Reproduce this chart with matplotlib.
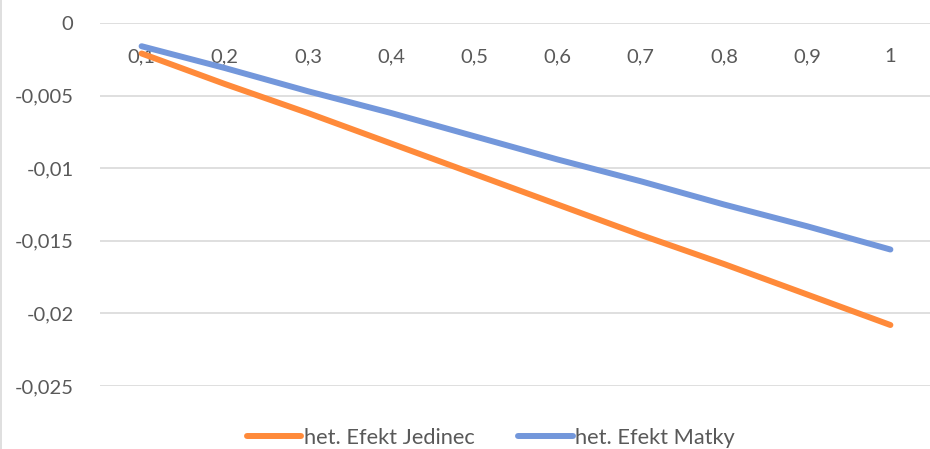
import matplotlib.pyplot as plt
from matplotlib.lines import Line2D

# categories on the x axis and the two series
categories = ["0,1", "0,2", "0,3", "0,4", "0,5", "0,6", "0,7", "0,8", "0,9", "1"]
jedinec = [-0.0021, -0.0042, -0.0062, -0.0083, -0.0104, -0.0125, -0.0146, -0.0166, -0.0187, -0.0208]
matky = [-0.0016, -0.0031, -0.0047, -0.0062, -0.0078, -0.0094, -0.0109, -0.0125, -0.0140, -0.0156]
y_ticks = [0, -0.005, -0.01, -0.015, -0.02, -0.025]
y_labels = ["0", "-0,005", "-0,01", "-0,015", "-0,02", "-0,025"]

plt.rcParams['font.family'] = ['Lato', 'DejaVu Sans']
text_color = '#595959'

fig = plt.figure(figsize=(9.3, 4.49), dpi=100)
ax = fig.add_axes([100 / 930, 63 / 449, 832 / 930, 363 / 449])

x = list(range(len(categories)))
ax.plot(x, jedinec, color='#FF8A3A', lw=4.3, solid_capstyle='round', label='het. Efekt Jedinec')
ax.plot(x, matky, color='#7397DB', lw=4.3, solid_capstyle='round', label='het. Efekt Matky')

ax.set_xlim(-0.5, len(categories) - 0.5)
ax.set_ylim(-0.025, 0)
ax.set_yticks(y_ticks)
ax.set_yticklabels(y_labels)
ax.set_xticks(x)
ax.set_xticklabels(categories)

# category axis crosses at y = 0, labels sit just under it
ax.spines['bottom'].set_position(('data', 0))
for s in ax.spines.values():
    s.set_visible(False)
ax.tick_params(axis='both', length=0, labelsize=14.5, colors=text_color)
ax.tick_params(axis='y', pad=19)
ax.tick_params(axis='x', pad=18)

ax.yaxis.grid(True, color='#D9D9D9', lw=1.2)
ax.set_axisbelow(True)

# chart border on the left edge
fig.add_artist(Line2D([0.001, 0.001], [0, 1], transform=fig.transFigure, color='#D9D9D9', lw=1.2))

fig.legend(loc='center', bbox_to_anchor=(0.528, 0.025), ncol=2, frameon=False,
           fontsize=15.7, handlelength=2.5, handletextpad=0.12, columnspacing=2.0,
           labelcolor=text_color, borderaxespad=0)

fig.savefig('out.png', dpi=100)
